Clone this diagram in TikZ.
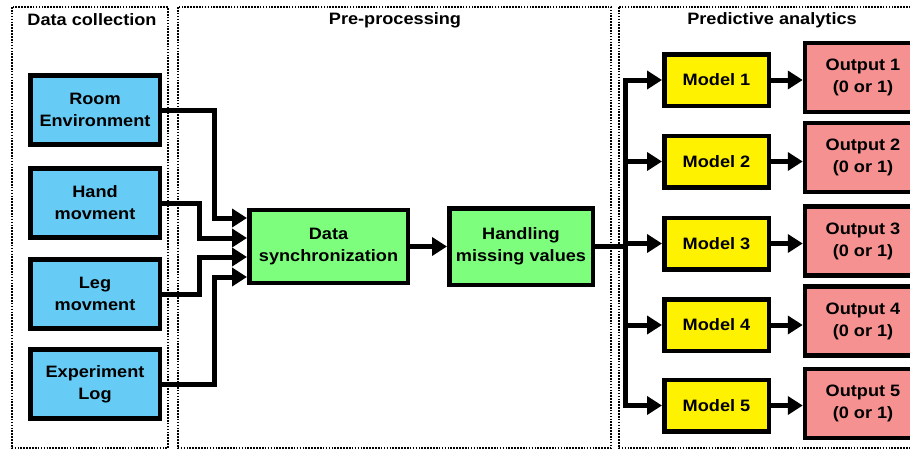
\documentclass[tikz,border=0pt]{standalone}
\usepackage{fontspec}
\setmainfont{Liberation Sans}[FakeStretch=1.1]
\usetikzlibrary{arrows.meta}
\definecolor{srcblue}{RGB}{102,204,245}
\definecolor{prepgreen}{RGB}{125,255,125}
\definecolor{modelyellow}{RGB}{255,242,0}
\definecolor{outpink}{RGB}{245,145,145}
\begin{document}
\begin{tikzpicture}[x=1pt,y=-1pt,
    font=\fontsize{16.5}{22}\selectfont\bfseries,
    box/.style={draw,line width=4.5pt,align=center,inner sep=0pt},
    src/.style={box,fill=srcblue,minimum width=129.5pt,minimum height=69pt},
    prep/.style={box,fill=prepgreen,minimum height=73pt},
    model/.style={box,fill=modelyellow,minimum width=104.5pt,minimum height=51.5pt},
    outp/.style={box,fill=outpink,minimum width=116pt,minimum height=69pt},
    frame/.style={line width=1.8pt,dash pattern=on 1.6pt off 1.3pt},
    flow/.style={line width=5pt,-{Triangle[length=15pt,width=18pt]}},
    bus/.style={line width=5pt}]
  \useasboundingbox (0,0) rectangle (910,450);
  % frames
  \draw[frame] (12,7) rectangle (168,448);
  \draw[frame] (178,7) rectangle (611,448);
  \draw[frame] (619,7) rectangle (940,448);
  \node (ttldc) at (92,20) {Data collection};
  \node (ttlpp) at (395,20) {Pre-processing};
  \node (ttlpa) at (772,20) {Predictive analytics};
  % data sources
  \node[src] (room) at (95,110) {Room\\Environment};
  \node[src] (hand) at (95,203) {Hand\\movment};
  \node[src] (leg) at (95,294) {Leg\\movment};
  \node[src] (explog) at (95,384) {Experiment\\Log};
  % pre-processing
  \node[prep,minimum width=158.5pt] (sync) at (328.5,246.5) {Data\\synchronization};
  \node[prep,minimum width=143.5pt,minimum height=76.5pt] (handle) at (521,246.5) {Handling\\missing values};
  % models and outputs
  \node[model] (m1) at (716.5,80) {Model 1};
  \node[model] (m2) at (716.5,161.5) {Model 2};
  \node[model] (m3) at (716.5,243.5) {Model 3};
  \node[model] (m4) at (716.5,325) {Model 4};
  \node[model] (m5) at (716.5,405.5) {Model 5};
  \node[outp] (o1) at (863,77.5) {Output 1\\(0 or 1)};
  \node[outp] (o2) at (863,157.5) {Output 2\\(0 or 1)};
  \node[outp] (o3) at (863,241) {Output 3\\(0 or 1)};
  \node[outp] (o4) at (863,321) {Output 4\\(0 or 1)};
  \node[outp] (o5) at (863,403.5) {Output 5\\(0 or 1)};
  % connectors
  \draw[flow] (room.east) -- ++(52,0) |- ([yshift=28.5pt]sync.west);
  \draw[flow] (hand.east) -- ++(37,0) |- ([yshift=8.5pt]sync.west);
  \draw[flow] (leg.east) -- ++(37,0) |- ([yshift=-10.5pt]sync.west);
  \draw[flow] (explog.east) -- ++(52,0) |- ([yshift=-30.5pt]sync.west);
  \draw[flow] (sync) -- (handle);
  \coordinate (split) at (625,246.5);
  \draw[bus] (handle.east) -- (split);
  \foreach \i in {1,...,5}{
    \draw[flow] (split) |- (m\i.west);
    \draw[flow] (m\i.east) -- (m\i.east -| o\i.west);
  }
\end{tikzpicture}
\end{document}
